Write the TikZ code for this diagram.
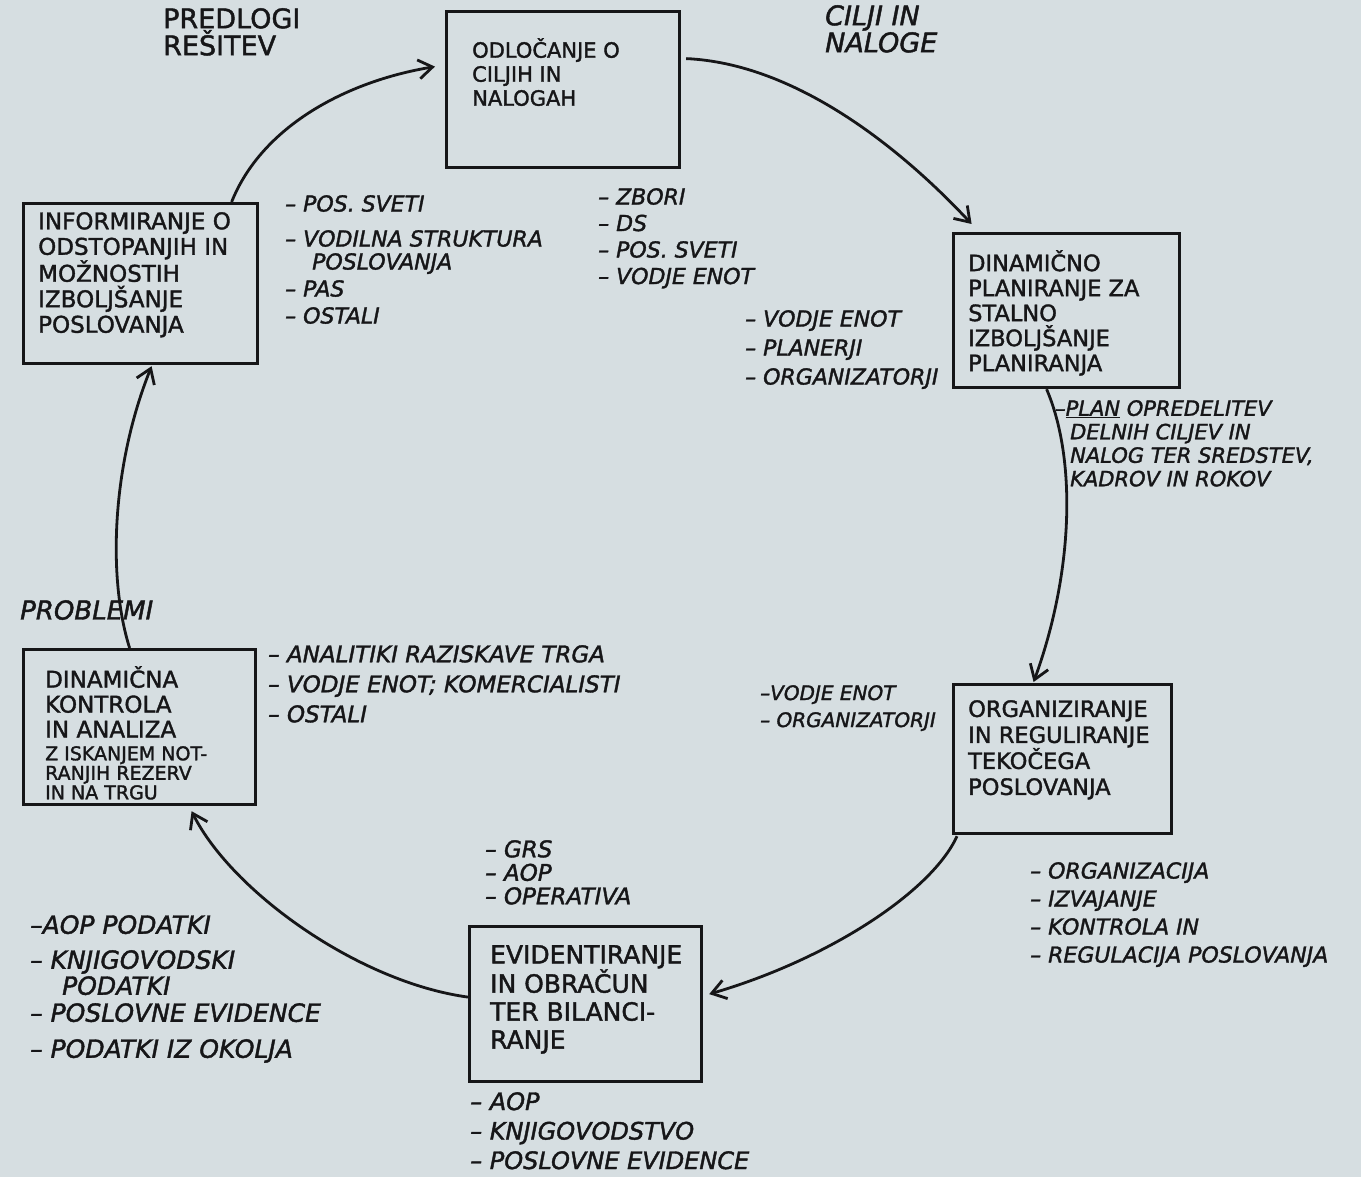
\documentclass[tikz,border=0pt]{standalone}
\usepackage{fontspec}
\setmainfont{DejaVu Sans}[FakeBold=1.6]
\usetikzlibrary{arrows.meta,calc}
\definecolor{paper}{RGB}{214,222,225}
\definecolor{ink}{RGB}{22,22,24}
\newcommand\hsz[2]{\fontsize{#1pt}{#2pt}\selectfont}
\begin{document}
\begin{tikzpicture}[x=1pt,y=-1pt,
  box/.style={draw=ink, line width=3.2pt, inner sep=0pt, anchor=north west},
  btxt/.style={anchor=north west, align=left, inner sep=0pt, text=ink},
  lst/.style={anchor=north west, align=left, inner sep=0pt, text=ink},
  flow/.style={draw=ink, line width=2.8pt, -{Straight Barb[length=14pt,width=19pt]}}]
\useasboundingbox (0,0) rectangle (1361,1177);
\fill[paper] (0,0) rectangle (1361,1177);

% boxes
\node[box, minimum width=233pt, minimum height=156pt] (b1) at (445,10) {};
\node[box, minimum width=226pt, minimum height=154pt] (b2) at (952,232) {};
\node[box, minimum width=218pt, minimum height=149pt] (b3) at (952,683) {};
\node[box, minimum width=232pt, minimum height=155pt] (b4) at (468,925) {};
\node[box, minimum width=232pt, minimum height=155pt] (b5) at (22,648) {};
\node[box, minimum width=234pt, minimum height=160pt] (b6) at (22,202) {};

% box texts
\node[btxt, font=\hsz{21}{24}] (t1) at (472,38) {ODLOČANJE O\\CILJIH IN\\NALOGAH};
\node[btxt, font=\hsz{22.5}{25}] (t2) at (968,250) {DINAMIČNO\\PLANIRANJE ZA\\STALNO\\IZBOLJŠANJE\\PLANIRANJA};
\node[btxt, font=\hsz{22.5}{26}] (t3) at (968,700) {ORGANIZIRANJE\\IN REGULIRANJE\\TEKOČEGA\\POSLOVANJA};
\node[btxt, font=\hsz{25}{28}] (t4) at (490,945) {EVIDENTIRANJE\\IN OBRAČUN\\TER BILANCI-\\RANJE};
\node[btxt, font=\hsz{23}{25}] (t5a) at (45,666) {DINAMIČNA\\KONTROLA\\IN ANALIZA};
\node[btxt, font=\hsz{19}{19.5}] (t5b) at (45,746) {Z ISKANJEM NOT-\\RANJIH REZERV\\IN NA TRGU};
\node[btxt, font=\hsz{23}{25.5}] (t6) at (38,212) {INFORMIRANJE O\\ODSTOPANJIH IN\\MOŽNOSTIH\\IZBOLJŠANJE\\POSLOVANJA};

% headings
\node[btxt, font=\hsz{27}{27}] (h1) at (163,8) {PREDLOGI\\REŠITEV};
\node[btxt, font=\itshape\hsz{27}{27}] (h2) at (825,5) {CILJI IN\\NALOGE};
\node[btxt, font=\itshape\hsz{26}{26}] (h3) at (20,600) {PROBLEMI};

% lists
\node[lst, font=\itshape\hsz{22}{26}] (l1) at (285,195) {– POS. SVETI\\[9pt]– VODILNA STRUKTURA\\[-3pt]\hspace*{27pt}POSLOVANJA\\[1pt]– PAS\\[1pt]– OSTALI};
\node[lst, font=\itshape\hsz{22}{26.5}] (l2) at (598,188) {– ZBORI\\– DS\\– POS. SVETI\\– VODJE ENOT};
\node[lst, font=\itshape\hsz{22}{29}] (l3) at (745,310) {– VODJE ENOT\\– PLANERJI\\– ORGANIZATORJI};
\node[lst, font=\itshape\hsz{21}{23.5}] (l4) at (1055,400) {–\underline{PLAN} OPREDELITEV\\\hspace*{15pt}DELNIH CILJEV IN\\\hspace*{15pt}NALOG TER SREDSTEV,\\\hspace*{15pt}KADROV IN ROKOV};
\node[lst, font=\itshape\hsz{20}{27}] (l5) at (760,685) {–VODJE ENOT\\– ORGANIZATORJI};
\node[lst, font=\itshape\hsz{22}{28}] (l6) at (1030,862) {– ORGANIZACIJA\\– IZVAJANJE\\– KONTROLA IN\\– REGULACIJA POSLOVANJA};
\node[lst, font=\itshape\hsz{23}{23.5}] (l7) at (485,840) {– GRS\\– AOP\\– OPERATIVA};
\node[lst, font=\itshape\hsz{24}{29.5}] (l8) at (470,1092) {– AOP\\– KNJIGOVODSTVO\\– POSLOVNE EVIDENCE};
\node[lst, font=\itshape\hsz{25}{26}] (l9) at (30,915) {–AOP PODATKI\\[9pt]– KNJIGOVODSKI\\\hspace*{32pt}PODATKI\\[1pt]– POSLOVNE EVIDENCE\\[10pt]– PODATKI IZ OKOLJA};
\node[lst, font=\itshape\hsz{23}{30}] (l10) at (268,645) {– ANALITIKI RAZISKAVE TRGA\\– VODJE ENOT; KOMERCIALISTI\\– OSTALI};

% cycle connectors
\draw[flow] ($(b1.east)+(5,-31)$) .. controls +(110,5) and +(-70,-75) .. ($(b2.north)+(-95,-8)$);
\draw[flow] ($(b2.south)+(-20,0)$) .. controls +(30,70) and +(40,-110) .. ($(b3.north)+(-29,-1)$);
\draw[flow] ($(b3.south west)+(5,1)$) .. controls +(-25,55) and +(120,-35) .. ($(b4.east)+(6,-10)$);
\draw[flow] ($(b4.west)+(0,-7)$) .. controls +(-110,-15) and +(40,80) .. ($(b5.south)+(52,5)$);
\draw[flow] ($(b5.north)+(-10,0)$) .. controls +(-22,-70) and +(-40,100) .. ($(b6.south)+(11,1)$);
\draw[flow] ($(b6.north)+(91,0)$) .. controls +(30,-75) and +(-90,15) .. ($(b1.west)+(-10,-23)$);
\end{tikzpicture}
\end{document}
